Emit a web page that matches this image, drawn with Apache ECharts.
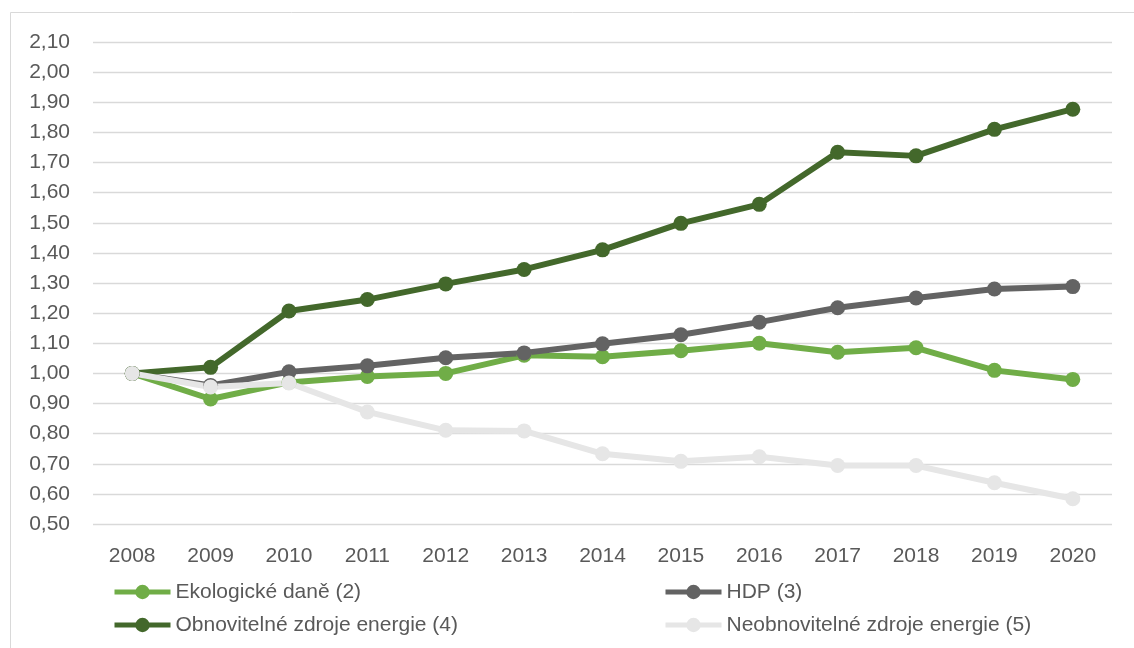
<!DOCTYPE html>
<html>
<head>
<meta charset="utf-8">
<script src="https://cdn.jsdelivr.net/npm/echarts@6/dist/echarts.min.js"></script>
<style>
  html, body { margin: 0; padding: 0; background: #ffffff; }
  #chart { width: 1134px; height: 648px; }
</style>
</head>
<body>
<div id="chart"></div>
<script>
// Years on the horizontal axis
const years = ['2008', '2009', '2010', '2011', '2012', '2013', '2014', '2015', '2016', '2017', '2018', '2019', '2020'];

// Index values (2008 = 1,00)
const ekologickeDane = [1.00, 0.915, 0.97, 0.99, 1.00, 1.06, 1.055, 1.075, 1.10, 1.07, 1.085, 1.01, 0.98];
const hdp = [1.00, 0.96, 1.005, 1.025, 1.052, 1.068, 1.098, 1.128, 1.17, 1.218, 1.25, 1.28, 1.288];
const obnovitelne = [1.00, 1.02, 1.207, 1.245, 1.297, 1.345, 1.41, 1.498, 1.561, 1.734, 1.722, 1.81, 1.877];
const neobnovitelne = [1.00, 0.955, 0.968, 0.872, 0.811, 0.809, 0.733, 0.708, 0.723, 0.694, 0.694, 0.637, 0.584];

// Series names as shown in the legend
const seriesNames = [
  'Ekologické daně (2)',
  'HDP (3)',
  'Obnovitelné zdroje energie (4)',
  'Neobnovitelné zdroje energie (5)'
];

const colors = ['#70AD47', '#636363', '#43682B', '#E6E6E6'];
const FONT = 'Liberation Sans';
const TEXT = '#595959';

function lineSeries(name, data, color) {
  return {
    name: name,
    type: 'line',
    data: data,
    symbol: 'circle',
    symbolSize: 15,
    lineStyle: { color: color, width: 6 },
    itemStyle: { color: color },
    emphasis: { disabled: true },
    animation: false
  };
}

function columnLegend(names, left) {
  return {
    data: names,
    orient: 'vertical',
    left: left,
    top: 581,
    padding: 0,
    itemWidth: 56,
    itemHeight: 18,
    itemGap: 11,
    selectedMode: false,
    lineStyle: { width: 5 },
    textStyle: { fontSize: 21, color: TEXT, fontFamily: FONT, lineHeight: 22 }
  };
}

const chart = echarts.init(document.getElementById('chart'), null, { renderer: 'canvas' });

chart.setOption({
  backgroundColor: '#ffffff',
  animation: false,
  textStyle: { fontFamily: FONT, color: TEXT },
  graphic: [{
    type: 'rect',
    shape: { x: 10.5, y: 12.5, width: 1200, height: 700 },
    style: { fill: null, stroke: '#D9D9D9', lineWidth: 1 },
    silent: true,
    z: -1
  }],
  grid: { left: 93, right: 22, top: 42, bottom: 124 },
  xAxis: {
    type: 'category',
    data: years,
    boundaryGap: true,
    axisLine: { show: false },
    axisTick: { show: false },
    axisLabel: { margin: 22, fontSize: 21, color: TEXT, fontFamily: FONT }
  },
  yAxis: {
    type: 'value',
    min: 0.5,
    max: 2.1,
    interval: 0.1,
    axisLine: { show: false },
    axisTick: { show: false },
    splitLine: { show: true, lineStyle: { color: '#D9D9D9', width: 1.4 } },
    axisLabel: {
      margin: 23,
      fontSize: 21,
      color: TEXT,
      fontFamily: FONT,
      formatter: v => v.toFixed(2).replace('.', ',')
    }
  },
  legend: [
    columnLegend([seriesNames[0], seriesNames[2]], 112),
    columnLegend([seriesNames[1], seriesNames[3]], 663)
  ],
  series: [
    lineSeries(seriesNames[0], ekologickeDane, colors[0]),
    lineSeries(seriesNames[1], hdp, colors[1]),
    lineSeries(seriesNames[2], obnovitelne, colors[2]),
    lineSeries(seriesNames[3], neobnovitelne, colors[3])
  ]
});
</script>
</body>
</html>
